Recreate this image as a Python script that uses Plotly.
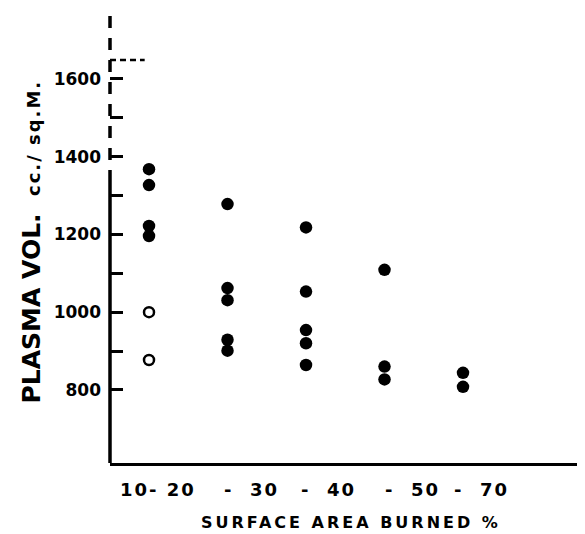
import plotly.graph_objects as go

# ---- data ----
categories = ["10-20", "20-30", "30-40", "40-50", "50-70"]
tick_labels = ["10- 20", "-  30", "-  40", "-  50", "-  70"]

filled_values = {
    "10-20": [1368, 1327, 1222, 1196],
    "20-30": [1278, 1062, 1031, 929, 901],
    "30-40": [1218, 1053, 954, 920, 864],
    "40-50": [1109, 860, 827],
    "50-70": [844, 808],
}
open_values = {
    "10-20": [1000, 877],
}

y_ticks = [800, 900, 1000, 1100, 1200, 1300, 1400, 1500, 1600]
y_tick_text = ["800", "", "1000", "", "1200", "", "1400", "", "1600"]

x_title = "SURFACE AREA BURNED %"
y_title_main = "PLASMA VOL."
y_title_unit = "cc./ sq.M."

# ---- build traces ----
fx, fy = [], []
for c in categories:
    for v in filled_values.get(c, []):
        fx.append(c)
        fy.append(v)
ox, oy = [], []
for c in categories:
    for v in open_values.get(c, []):
        ox.append(c)
        oy.append(v)

FONT = "DejaVu Sans"
fig = go.Figure()
fig.add_trace(go.Scatter(x=fx, y=fy, mode="markers",
                         marker=dict(symbol="circle", size=12.5, color="black"),
                         showlegend=False))
fig.add_trace(go.Scatter(x=ox, y=oy, mode="markers",
                         marker=dict(symbol="circle-open", size=10, color="black",
                                     line=dict(width=2.5, color="black")),
                         showlegend=False))

# the page body has an 8px margin, so the figure is sized to fit the window
fig.update_layout(
    width=577, height=526,
    margin=dict(l=102, r=0, t=0, b=71),
    paper_bgcolor="white", plot_bgcolor="white",
    xaxis=dict(type="category", categoryorder="array", categoryarray=categories,
               range=[-0.497, 5.554], showgrid=False, zeroline=False,
               showline=True, linewidth=3, linecolor="black",
               ticks="", showticklabels=False),
    yaxis=dict(range=[612, 1782.5], showgrid=False, zeroline=False, showline=False,
               tickmode="array", tickvals=y_ticks, ticktext=y_tick_text,
               ticks="inside", ticklen=13, tickwidth=3, tickcolor="black",
               ticklabelstandoff=8,
               tickfont=dict(family=FONT, size=17, color="black", weight="bold")),
)

# y axis line: solid lower part, dashed upper part
fig.add_shape(type="line", xref="paper", yref="y", x0=0, x1=0, y0=612, y1=1335,
              line=dict(color="black", width=3.5))
fig.add_shape(type="line", xref="paper", yref="y", x0=0, x1=0, y0=1335, y1=1782.5,
              line=dict(color="black", width=3.5, dash="12px,10px"))
fig.add_shape(type="line", xref="paper", yref="y", x0=0, x1=0.073, y0=1649, y1=1649,
              line=dict(color="black", width=2.5, dash="6px,4px"))

# x tick labels
shifts = [9, 24, 22, 28, 18]
for c, lab, s in zip(categories, tick_labels, shifts):
    fig.add_annotation(x=c, xref="x", y=-0.0593, yref="paper", xshift=s,
                       text="<span style='letter-spacing:2px'>" + lab.replace(" ", "&nbsp;") + "</span>",
                       showarrow=False, xanchor="center", yanchor="middle",
                       font=dict(family=FONT, size=18, color="black", weight="bold"))

# axis titles
fig.add_annotation(x=0.507, xref="paper", y=-0.1297, yref="paper",
                   text="<span style='letter-spacing:3px'>" + x_title + "</span>",
                   showarrow=False, xanchor="center", yanchor="middle",
                   font=dict(family=FONT, size=16, color="black", weight="bold"))
fig.add_annotation(x=-0.166, xref="paper", y=0.487, yref="paper", textangle=-90,
                   text=y_title_main + "&nbsp;&nbsp;<span style='font-size:18px;letter-spacing:2px'>"
                        + y_title_unit + "</span>",
                   showarrow=False, xanchor="center", yanchor="middle",
                   font=dict(family=FONT, size=25, color="black", weight="bold"))

fig.write_html("out.html")
